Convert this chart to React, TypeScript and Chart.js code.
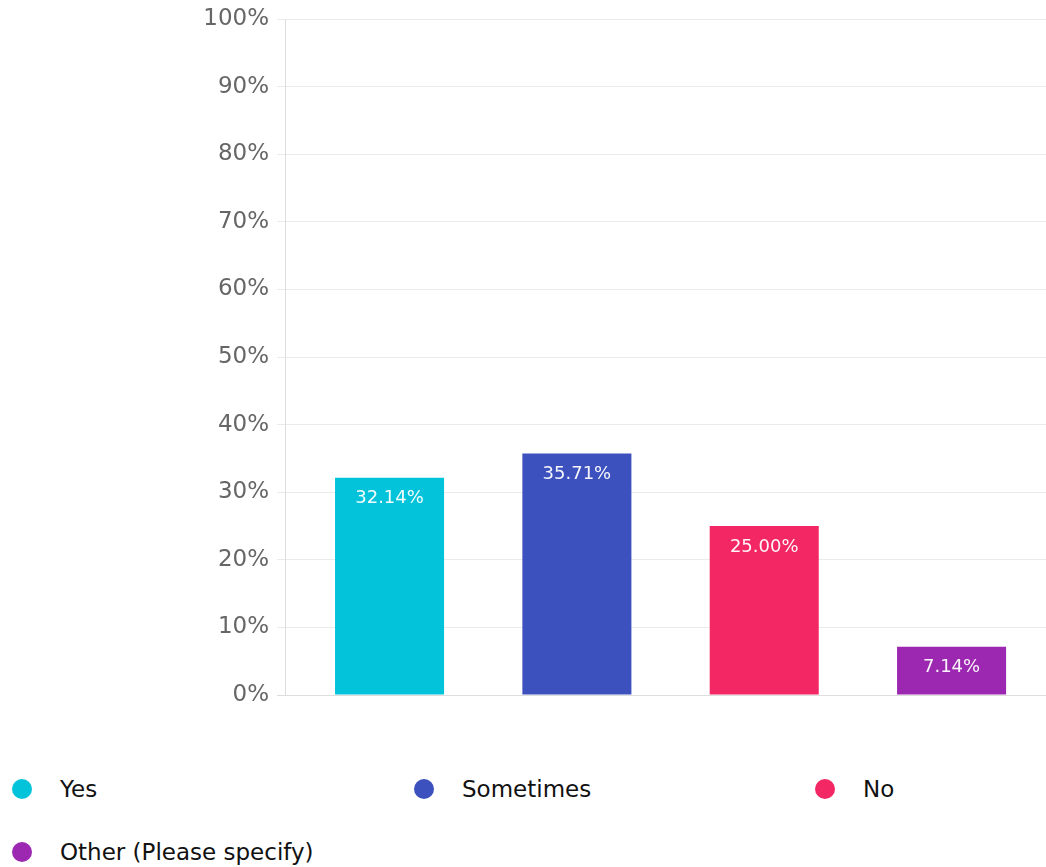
import React, { useEffect, useRef } from "react";
import { Chart, registerables } from "chart.js";

Chart.register(...registerables);

const categories = ["Yes", "Sometimes", "No", "Other (Please specify)"];
const values = [32.14, 35.71, 25.0, 7.14];
const colors = ["#02C3DA", "#3C50BE", "#F22764", "#9C27B0"];
const yTicks = [0, 10, 20, 30, 40, 50, 60, 70, 80, 90, 100];

const FONT = "'DejaVu Sans', sans-serif";

const valueLabels = {
  id: "valueLabels",
  afterDatasetsDraw(chart: any) {
    const ctx = chart.ctx;
    const meta = chart.getDatasetMeta(0);
    ctx.save();
    ctx.font = `18px ${FONT}`;
    ctx.fillStyle = "rgba(255,255,255,0.95)";
    ctx.textAlign = "center";
    ctx.textBaseline = "middle";
    meta.data.forEach((el: any, i: number) => {
      ctx.fillText(values[i].toFixed(2) + "%", el.x, el.y + 21);
    });
    ctx.restore();
  },
};

export default function App() {
  const ref = useRef<HTMLCanvasElement | null>(null);

  useEffect(() => {
    document.body.style.margin = "0";
    const chart = new Chart(ref.current!, {
      type: "bar",
      data: {
        datasets: [
          {
            label: "Responses",
            data: values.map((v, i) => ({ x: i, y: v })),
            backgroundColor: colors,
            borderWidth: 0,
            barPercentage: 0.582,
            categoryPercentage: 1,
          },
        ],
      },
      options: {
        animation: false,
        responsive: true,
        maintainAspectRatio: false,
        layout: { padding: { top: 19, bottom: 25, left: 0, right: 0 } },
        plugins: {
          legend: { display: false },
          tooltip: { enabled: false },
        },
        scales: {
          x: {
            type: "linear",
            min: -0.558,
            max: 3.504,
            offset: false,
            display: false,
            afterBuildTicks: (s: any) => {
              s.ticks = categories.map((_, i) => ({ value: i }));
            },
          },
          y: {
            min: 0,
            max: 100,
            afterFit: (s: any) => {
              s.width = 285;
              s.paddingTop = 0;
              s.paddingBottom = 0;
            },
            afterBuildTicks: (s: any) => {
              s.ticks = yTicks.map((v) => ({ value: v }));
            },
            ticks: {
              color: "#666666",
              padding: 8,
              font: { family: FONT, size: 23 },
              callback: (v: any) => v + "%",
            },
            grid: {
              color: (c: any) => (c.tick && c.tick.value === 0 ? "#dddddd" : "#ebebeb"),
              tickLength: 8,
              lineWidth: 1,
            },
            border: { display: true, color: "#dddddd" },
          },
        },
      },
      plugins: [valueLabels],
    });
    return () => chart.destroy();
  }, []);

  return (
    <div style={{ width: 1046, fontFamily: FONT }}>
      <div style={{ position: "relative", width: 1046, height: 720 }}>
        <canvas ref={ref} />
      </div>
      <div
        style={{
          display: "grid",
          gridTemplateColumns: "402px 401px 231px",
          paddingLeft: 12,
          paddingTop: 37,
        }}
      >
        {categories.map((c, i) => (
          <div
            key={c}
            style={{
              height: 63,
              display: "flex",
              alignItems: "center",
              whiteSpace: "nowrap",
            }}
          >
            <span
              style={{
                display: "inline-block",
                width: 20,
                height: 20,
                borderRadius: "50%",
                background: colors[i],
                marginRight: 28,
                flex: "none",
              }}
            />
            <span style={{ fontSize: 23, color: "#111111" }}>{c}</span>
          </div>
        ))}
      </div>
    </div>
  );
}
